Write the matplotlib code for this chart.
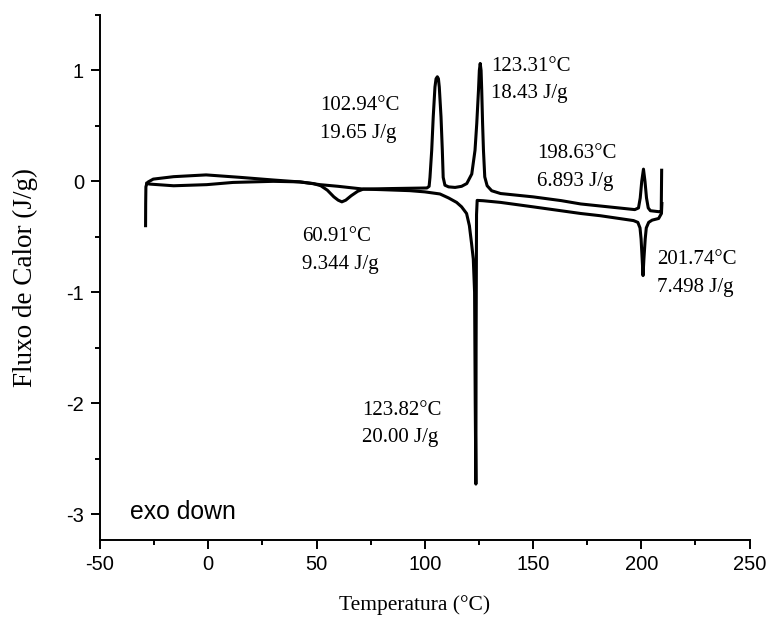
import matplotlib
matplotlib.use('Agg')
import matplotlib.pyplot as plt
from matplotlib.ticker import MultipleLocator

plt.rcParams['axes.unicode_minus'] = False

# heating run
heat_t = [-28.95, -28.9, -28.8, -28.3, -27.7, -25.4, -16, -1, 14.6, 30, 42, 48.5, 52, 55, 58, 60,
          61.7, 63.5, 66, 69, 71.6, 85, 101, 102, 102.4, 103.2, 103.9, 104.7, 105.2, 105.8, 106.3,
          106.7, 107.5, 108.1, 108.5, 109.3, 111, 114, 117, 119.4, 121.7, 123.2, 124, 124.8, 125.2,
          125.6, 126.0, 126.3, 126.7, 127.1, 127.7, 128.8, 130.9, 135, 150, 163, 172, 197, 198.7,
          199.5, 200.2, 201, 201.7, 202.4, 203.2, 204.2, 208.6, 209.2, 209.4]
heat_q = [-0.40, -0.2, -0.05, -0.015, -0.005, 0.02, 0.042, 0.058, 0.036, 0.012, -0.005, -0.02, -0.04,
          -0.08, -0.14, -0.17, -0.185, -0.17, -0.13, -0.09, -0.07, -0.065, -0.06, -0.045, 0.036, 0.28,
          0.58, 0.85, 0.925, 0.943, 0.925, 0.85, 0.58, 0.28, 0.036, -0.035, -0.05, -0.055, -0.045,
          -0.02, 0.066, 0.28, 0.52, 0.82, 1.0, 1.063, 1.0, 0.82, 0.52, 0.28, 0.04, -0.04, -0.085,
          -0.11, -0.14, -0.174, -0.204, -0.255, -0.24, -0.15, 0.0, 0.11, 0.0, -0.15, -0.24, -0.265,
          -0.275, -0.27, 0.1]

# cooling run
cool_t = [209.5, 209.3, 208, 205, 203.4, 202.3, 201.8, 201.2, 200.8, 200.4, 199.9, 199.4, 198.4,
          196.4, 181, 172, 150, 135, 127, 124.2, 123.9, 123.7, 123.6, 123.3, 123.0, 122.4, 121.6,
          120.6, 119.3, 117, 114.7, 111, 107, 100, 93, 80, 71.6, 60, 51.6, 42.4, 30, 11.4, -0.7,
          -16, -26.9, -28.4]
cool_q = [-0.2, -0.29, -0.335, -0.35, -0.37, -0.42, -0.52, -0.7, -0.85, -0.7, -0.52, -0.42, -0.37,
          -0.354, -0.31, -0.29, -0.23, -0.19, -0.175, -0.172, -0.3, -1.5, -2.73, -2.0, -1.0, -0.7,
          -0.56, -0.4, -0.29, -0.23, -0.19, -0.15, -0.114, -0.095, -0.084, -0.075, -0.07, -0.045,
          -0.03, -0.005, 0.0, -0.01, -0.03, -0.04, -0.025, -0.02]

# peak labels: (x, y, text)
labels = [
    (51.6, 0.556, '102.94°C\n19.65 J/g'),
    (130.6, 0.916, '123.31°C\n18.43 J/g'),
    (151.8, 0.123, '198.63°C\n6.893 J/g'),
    (43.3, -0.624, '60.91°C\n9.344 J/g'),
    (207.2, -0.83, '201.74°C\n7.498 J/g'),
    (71, -2.19, '123.82°C\n20.00 J/g'),
]

serif = 'Liberation Serif'
sans = 'Liberation Sans'

fig = plt.figure(figsize=(7.68, 6.17), dpi=100)
ax = fig.add_axes([0.1302, 0.1256, 0.8458, 0.8501])

ax.plot(heat_t, heat_q, color='black', lw=2.2, solid_joinstyle='round')
ax.plot(cool_t, cool_q, color='black', lw=2.2, solid_joinstyle='round')

for x, y, s in labels:
    ax.text(x, y, s, fontfamily=serif, fontsize=15, ha='left', va='center', linespacing=1.6)

ax.text(-36.2, -2.985, 'exo down', fontfamily=sans, fontsize=17.8, ha='left', va='center')

ax.set_xlim(-50, 250)
ax.set_ylim(-3.23, 1.5)
ax.xaxis.set_major_locator(MultipleLocator(50))
ax.xaxis.set_minor_locator(MultipleLocator(25))
ax.yaxis.set_major_locator(MultipleLocator(1))
ax.yaxis.set_minor_locator(MultipleLocator(0.5))

ax.spines['top'].set_visible(False)
ax.spines['right'].set_visible(False)
for sp in ['left', 'bottom']:
    ax.spines[sp].set_linewidth(1.4)
ax.tick_params(which='major', direction='out', length=6.5, width=1.4, labelsize=14.5, pad=5)
ax.tick_params(which='minor', direction='out', length=3.4, width=1.4)
for lab in ax.get_xticklabels() + ax.get_yticklabels():
    lab.set_fontfamily(sans)

ax.set_xlabel('Temperatura (°C)', fontfamily=serif, fontsize=15.5, va='baseline')
ax.xaxis.set_label_coords(0.485, -0.134)
ax.set_ylabel('Fluxo de Calor (J/g)', fontfamily=serif, fontsize=19.5, labelpad=20)

fig.savefig('out.png', dpi=100)
